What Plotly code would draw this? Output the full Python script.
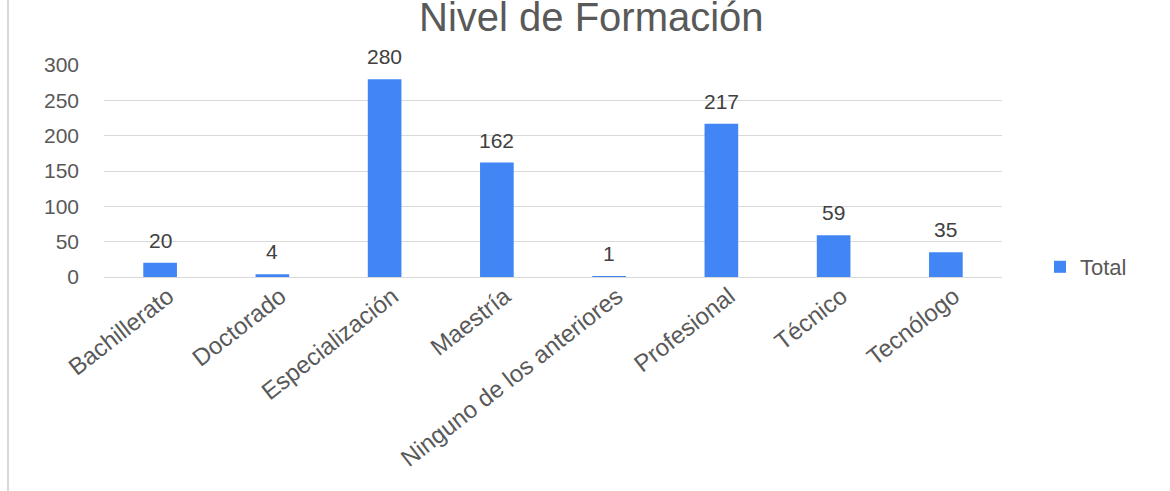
import plotly.graph_objects as go

categories = ["Bachillerato", "Doctorado", "Especialización", "Maestría",
              "Ninguno de los anteriores", "Profesional", "Técnico", "Tecnólogo"]
totals = [20, 4, 280, 162, 1, 217, 59, 35]
y_ticks = [0, 50, 100, 150, 200, 250, 300]
series_name = "Total"
title_text = "Nivel de Formación"

W, H = 1170, 491
L, R, T, B = 104, 168, 65, 214
pw, ph = W - L - R, H - T - B

def px_x(x):
    return (x - L) / pw

def px_y(y):
    return (H - B - y) / ph

FONT = "Liberation Sans, Arial, sans-serif"

fig = go.Figure(go.Bar(
    x=categories, y=totals, name=series_name,
    marker=dict(color="#4285F4", line=dict(width=0)),
    showlegend=True, hoverinfo="x+y",
))

value_labels = [dict(x=c, y=v, xref="x", yref="y", text=str(v), showarrow=False,
                     xanchor="center", yanchor="bottom", yshift=9,
                     font=dict(family=FONT, size=21, color="#404040"))
                for c, v in zip(categories, totals)]

title_ann = dict(text=title_text, xref="paper", yref="paper",
                 x=px_x(591), y=px_y(41), xanchor="center", yanchor="bottom",
                 showarrow=False,
                 font=dict(family=FONT, size=40, color="#595959"))

fig.update_layout(
    width=W, height=H, autosize=False,
    margin=dict(l=L, r=R, t=T, b=B, pad=0),
    paper_bgcolor="white", plot_bgcolor="white",
    bargap=0.7,
    font=dict(family=FONT, color="#595959"),
    legend=dict(x=px_x(1040), y=px_y(267), xanchor="left", yanchor="middle",
                font=dict(family=FONT, size=22, color="#595959"),
                bgcolor="rgba(0,0,0,0)", itemwidth=30),
    annotations=value_labels + [title_ann],
    shapes=[dict(type="line", xref="paper", yref="paper",
                 x0=px_x(8), x1=px_x(8), y0=px_y(0), y1=px_y(H),
                 line=dict(color="#d9d9d9", width=2))],
)

fig.update_xaxes(
    tickangle=-38, showgrid=False, showline=True, linecolor="#d9d9d9", linewidth=1,
    tickfont=dict(family=FONT, size=24, color="#595959"), ticks="", automargin=False,
    ticklabelshift=8, ticklabelstandoff=-5,
)
fig.update_yaxes(
    range=[0, 300], tickvals=y_ticks, showgrid=True, gridcolor="#d9d9d9", gridwidth=1,
    zeroline=False, showline=False, ticks="", ticklabelstandoff=24, automargin=False,
    tickfont=dict(family=FONT, size=21, color="#595959"),
)

fig.write_html("out.html", config={"displayModeBar": False},
               post_script="document.body.style.margin='0';")
